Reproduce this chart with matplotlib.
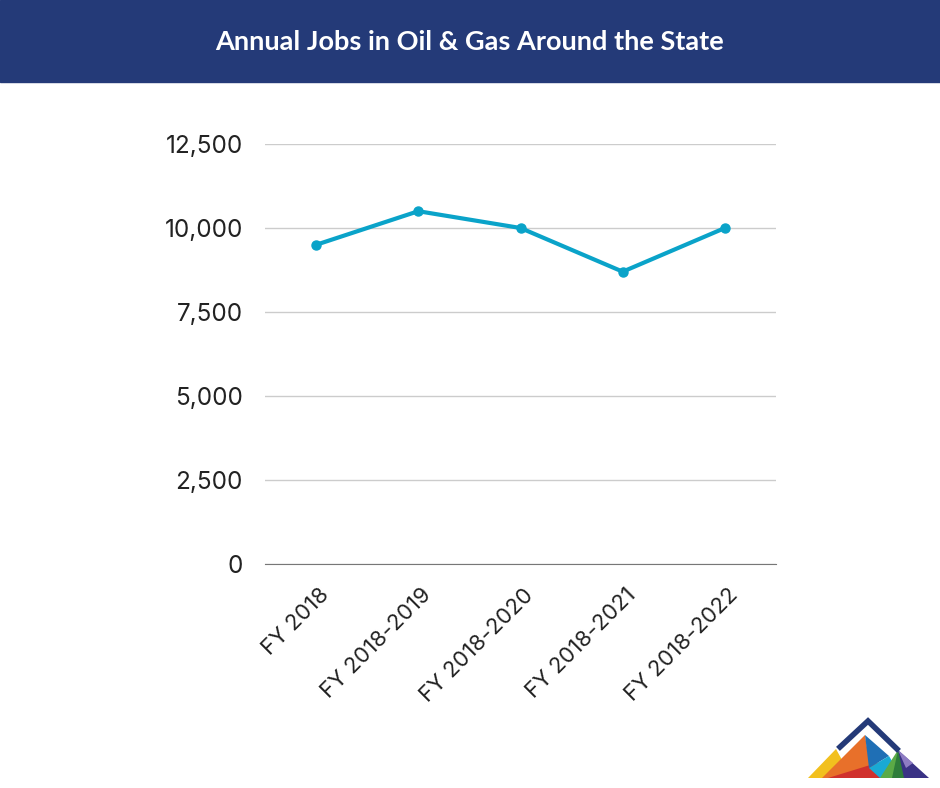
import matplotlib.pyplot as plt
from matplotlib.patches import Rectangle, Polygon
from matplotlib.ticker import FuncFormatter
from matplotlib.transforms import ScaledTranslation

# 데이터
years = ["FY 2018", "FY 2018-2019", "FY 2018-2020", "FY 2018-2021", "FY 2018-2022"]
jobs = [9500, 10500, 10000, 8700, 10000]
yticks = [0, 2500, 5000, 7500, 10000, 12500]

fig = plt.figure(figsize=(9.4, 7.88), dpi=100)

# 배경 (픽셀 좌표)
bg = fig.add_axes([0, 0, 1, 1], zorder=0)
bg.set_xlim(0, 940)
bg.set_ylim(788, 0)
bg.axis("off")
bg.add_patch(Rectangle((0, 0), 940, 82, color="#243a78"))
bg.text(470, 42, "Annual Jobs in Oil & Gas Around the State", color="white",
        fontsize=19.5, fontweight="bold", family="Lato", ha="center", va="center")

# 로고
logo = [
    ([(808, 778), (836, 749), (852, 778)], "#f2c01e"),
    ([(822, 778), (865, 735), (872, 778)], "#e8702a"),
    ([(828, 778), (880, 762), (884, 778)], "#d0312d"),
    ([(865, 735), (889, 756), (869, 768)], "#1f6fb5"),
    ([(869, 768), (889, 756), (902, 778), (880, 778)], "#19a9d4"),
    ([(880, 778), (898, 750), (912, 778)], "#5baa46"),
    ([(892, 778), (898, 750), (906, 778)], "#2e7d3a"),
    ([(898, 750), (929, 778), (904, 778)], "#3a3285"),
    ([(898, 750), (906, 768), (913, 763)], "#8e7cc3"),
]
for pts, c in logo:
    bg.add_patch(Polygon(pts, closed=True, color=c, lw=0))
bg.plot([840, 868, 897], [747, 721, 749], color="#243a78", lw=4, solid_joinstyle="miter")

# 선 그래프
ax = fig.add_axes([265 / 940, 1 - 564 / 788, 511 / 940, 420 / 788], zorder=1)
ax.patch.set_alpha(0)
ax.plot(range(len(years)), jobs, color="#0aa3c9", lw=3, marker="o", markersize=6.5)
ax.set_xlim(-0.5, len(years) - 0.5)
ax.set_ylim(0, 12500)
ax.set_yticks(yticks)
ax.yaxis.set_major_formatter(FuncFormatter(lambda v, p: f"{int(v):,}"))
ax.grid(True, axis="y", color="#cccccc", lw=1)
ax.set_axisbelow(True)
for s in ["top", "right", "left"]:
    ax.spines[s].set_visible(False)
ax.spines["bottom"].set_color("#777777")
ax.tick_params(axis="both", length=0)
ax.tick_params(axis="y", labelsize=17.5, pad=16, labelcolor="#222222")
ax.set_xticks(range(len(years)))
ax.set_xticklabels(years, rotation=45, ha="right", rotation_mode="anchor",
                   fontsize=16, color="#222222")
ax.tick_params(axis="x", pad=15)
shift = ScaledTranslation(3 / 100, 0, fig.dpi_scale_trans)
for lab in ax.get_xticklabels():
    lab.set_transform(lab.get_transform() + shift)
for lab in ax.get_xticklabels() + ax.get_yticklabels():
    lab.set_family("Inter")

plt.savefig("out.png", dpi=100)
